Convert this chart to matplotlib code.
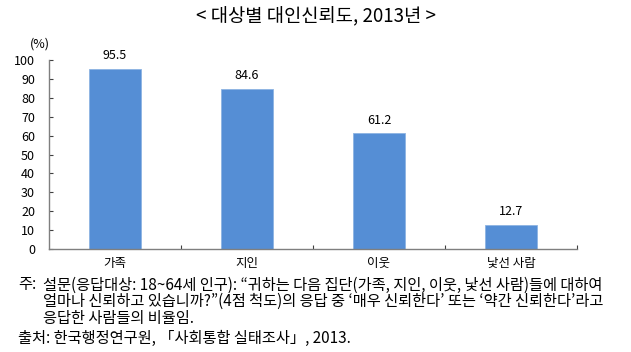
import matplotlib.pyplot as plt

plt.rcParams['font.family'] = ['Noto Sans CJK KR', 'DejaVu Sans']

# data
categories = ['가족', '지인', '이웃', '낯선 사람']
trust = [95.5, 84.6, 61.2, 12.7]
yticks = list(range(0, 101, 10))

W, H = 631, 352
fig = plt.figure(figsize=(W / 100, H / 100), dpi=100)

# axes placed in pixel coords: left 49, right 577, bottom 249, top 60
ax = fig.add_axes([49 / W, 1 - 249 / H, (577 - 49) / W, (249 - 60) / H])
x = range(len(categories))
ax.bar(x, trust, width=0.40, color='#558ED5', edgecolor='#8DB3E2', linewidth=0.6)
for xi, v in zip(x, trust):
    ax.text(xi, v + 3.5, f'{v:.1f}', ha='center', va='bottom', fontsize=9)

ax.set_xlim(-0.5, len(categories) - 0.5)
ax.set_ylim(0, 100)
ax.set_yticks(yticks)
ax.set_yticklabels([str(t) for t in yticks], fontsize=9)
ax.set_xticks([i + 0.5 for i in range(len(categories))])
ax.set_xticklabels([])
ax.set_xticks(list(x), minor=True)
ax.set_xticklabels(categories, minor=True, fontsize=9)
ax.tick_params(axis='x', which='minor', length=0, pad=6)
ax.tick_params(axis='x', which='major', direction='in', length=3, color='#404040')
ax.tick_params(axis='y', direction='in', length=3, color='#404040', pad=10)
for s in ['top', 'right']:
    ax.spines[s].set_visible(False)
for s in ['left', 'bottom']:
    ax.spines[s].set_color('#7f7f7f')
    ax.spines[s].set_linewidth(1.0)

ax.text(-0.017, 1.05, '(%)', transform=ax.transAxes, fontsize=9, ha='center', va='bottom')

fig.text(316 / W, 1 - 17 / H, '< 대상별 대인신뢰도, 2013년 >', ha='center', va='center', fontsize=13.5)

note_fs = 11
fig.text(18 / W, 1 - 285 / H, '주:', ha='left', va='center', fontsize=note_fs)
notes = [
    '설문(응답대상: 18~64세 인구): “귀하는 다음 집단(가족, 지인, 이웃, 낯선 사람)들에 대하여',
    '얼마나 신뢰하고 있습니까?”(4점 척도)의 응답 중 ‘매우 신뢰한다’ 또는 ‘약간 신뢰한다’라고',
    '응답한 사람들의 비율임.',
]
for i, line in enumerate(notes):
    fig.text(43 / W, 1 - (285 + 16.5 * i) / H, line, ha='left', va='center', fontsize=note_fs)
fig.text(18 / W, 1 - 338 / H, '출처: 한국행정연구원, 「사회통합 실태조사」, 2013.',
         ha='left', va='center', fontsize=note_fs)

fig.savefig('out.png', dpi=100)
